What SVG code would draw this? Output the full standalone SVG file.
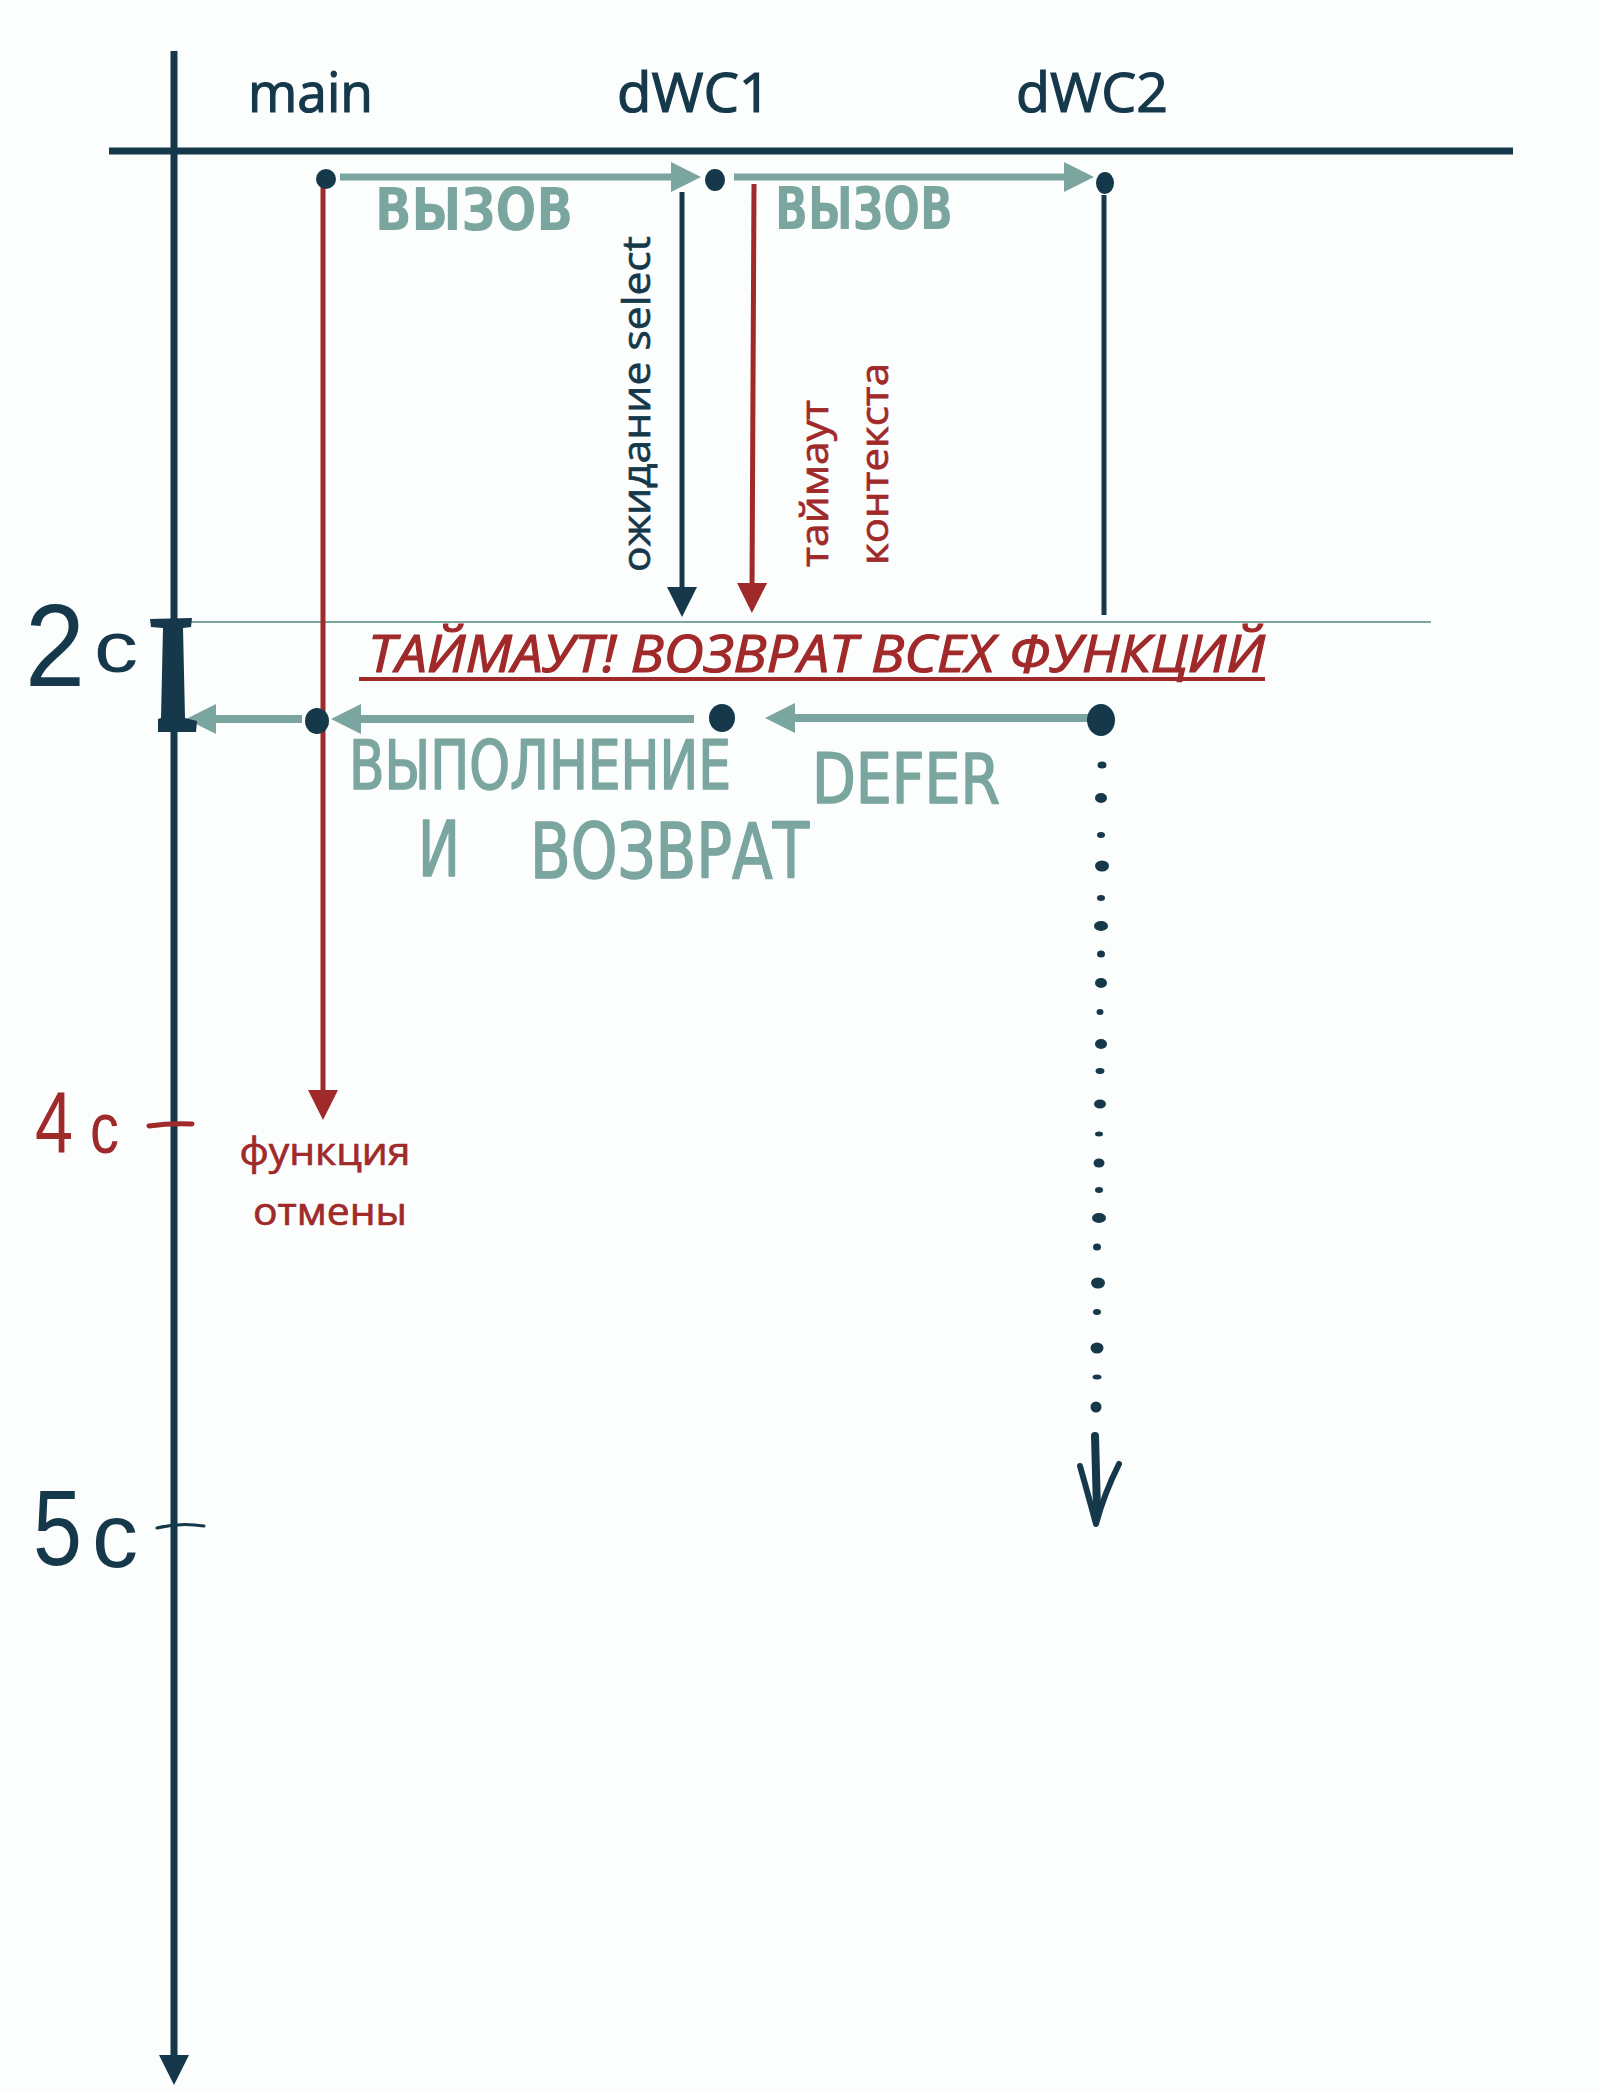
<svg xmlns="http://www.w3.org/2000/svg" width="1600" height="2091" viewBox="0 0 1600 2091">
<style>
.bg{fill:#fcfdfd}
.dk{fill:#15384a}
.rd{fill:#a0292a}
.tl{fill:#7ba69f}
.sdk{stroke:#15384a;fill:none}
.srd{stroke:#a0292a;fill:none}
.stl{stroke:#7ba69f;fill:none}
.hdr{font-family:"Open Sans","Noto Sans",sans-serif;font-size:54px;stroke:#15384a;stroke-width:1.2}
.lbl{font-family:"Open Sans","Noto Sans",sans-serif;font-size:39px;stroke-width:0.7}
.lbl.dk{stroke:#15384a}
.lbl.rd{stroke:#a0292a}
.hand{font-family:"DejaVu Sans Condensed","DejaVu Sans",sans-serif;font-stretch:condensed}
.hand.thin{stroke:#7ba69f;stroke-width:1.6;stroke-linejoin:round}
.num{font-family:"Liberation Sans","DejaVu Sans",sans-serif}
</style>
<defs>
<marker id="aTl" viewBox="0 0 30 30" refX="8" refY="15" markerWidth="30" markerHeight="30" markerUnits="userSpaceOnUse" orient="auto"><path d="M0,0 L30,15 L0,30 Z" class="tl"/></marker>
<marker id="aDk" viewBox="0 0 30 30" refX="8" refY="15" markerWidth="30" markerHeight="30" markerUnits="userSpaceOnUse" orient="auto"><path d="M0,0 L30,15 L0,30 Z" class="dk"/></marker>
<marker id="aRd" viewBox="0 0 30 30" refX="8" refY="15" markerWidth="30" markerHeight="30" markerUnits="userSpaceOnUse" orient="auto"><path d="M0,0 L30,15 L0,30 Z" class="rd"/></marker>
</defs>
<rect class="bg" x="0" y="0" width="1600" height="2091"/>

<g id="connectors">
  <path class="sdk" stroke-width="7" d="M174,51 V2063" marker-end="url(#aDk)"/>
  <path class="sdk" stroke-width="7" d="M109,151 H1513"/>
  <path class="stl" stroke-width="2" d="M190,622 H1431"/>
  <path class="stl" stroke-width="7" d="M340,177 H679" marker-end="url(#aTl)"/>
  <path class="stl" stroke-width="7" d="M734,177 H1072" marker-end="url(#aTl)"/>
  <path class="sdk" stroke-width="5" d="M682,192 V595" marker-end="url(#aDk)"/>
  <path class="srd" stroke-width="5" d="M754,184 L752,591" marker-end="url(#aRd)"/>
  <path class="srd" stroke-width="5" d="M323,185 V1098" marker-end="url(#aRd)"/>
  <path class="sdk" stroke-width="5" d="M1104,195 V615"/>
  <path class="stl" stroke-width="8" d="M1090,718 H787" marker-end="url(#aTl)"/>
  <path class="stl" stroke-width="8" d="M694,719 H353" marker-end="url(#aTl)"/>
  <path class="stl" stroke-width="8" d="M302,719 H208" marker-end="url(#aTl)"/>
  <g id="dotted" class="dk">
    <ellipse cx="1102" cy="765" rx="4.5" ry="3.5"/>
    <ellipse cx="1101" cy="798" rx="6" ry="5"/>
    <ellipse cx="1101" cy="835" rx="4" ry="3"/>
    <ellipse cx="1102" cy="866" rx="7" ry="5.5"/>
    <ellipse cx="1101" cy="898" rx="4" ry="3"/>
    <ellipse cx="1101" cy="926" rx="7" ry="5"/>
    <ellipse cx="1101" cy="954" rx="4" ry="3.5"/>
    <ellipse cx="1101" cy="983" rx="6" ry="5"/>
    <ellipse cx="1100" cy="1012" rx="3.5" ry="3"/>
    <ellipse cx="1101" cy="1044" rx="6" ry="5"/>
    <ellipse cx="1100" cy="1071" rx="4.5" ry="3"/>
    <ellipse cx="1100" cy="1104" rx="6" ry="4.5"/>
    <ellipse cx="1099" cy="1134" rx="4" ry="2.5"/>
    <ellipse cx="1099" cy="1163" rx="5.5" ry="4.5"/>
    <ellipse cx="1099" cy="1190" rx="4" ry="3"/>
    <ellipse cx="1099" cy="1218" rx="7" ry="5"/>
    <ellipse cx="1097" cy="1247" rx="4" ry="3.5"/>
    <ellipse cx="1098" cy="1283" rx="7" ry="5.5"/>
    <ellipse cx="1097" cy="1312" rx="4" ry="3"/>
    <ellipse cx="1097" cy="1348" rx="6.5" ry="5.5"/>
    <ellipse cx="1097" cy="1377" rx="4.5" ry="2.5"/>
    <ellipse cx="1096" cy="1407" rx="5.5" ry="5.5"/>
  </g>
  <path class="sdk" stroke-width="8" stroke-linecap="round" d="M1095,1436 L1097,1510"/>
  <path class="sdk" stroke-width="6" stroke-linecap="round" stroke-linejoin="round" d="M1080,1466 Q1089,1498 1096,1524 Q1104,1494 1119,1464"/>
</g>

<g id="axis-marks">
  <path class="dk" d="M150,619 L192,618 L191,627 L183,628 L185,718 L197,721 L196,732 L158,732 L158,719 L161,718 L163,628 L151,627 Z"/>
  <path class="srd" stroke-width="5" stroke-linecap="round" d="M149,1126 Q170,1123 192,1124"/>
  <path class="sdk" stroke-width="3" stroke-linecap="round" d="M157,1528 Q180,1522 204,1526"/>
  <text class="num dk" x="25" y="686" font-size="117" textLength="60" lengthAdjust="spacingAndGlyphs">2</text>
  <text class="num dk" x="94" y="672" font-size="72" textLength="44" lengthAdjust="spacingAndGlyphs">с</text>
  <text class="num rd" x="35" y="1153" font-size="88" textLength="38" lengthAdjust="spacingAndGlyphs">4</text>
  <text class="num rd" x="90" y="1153" font-size="73" textLength="29" lengthAdjust="spacingAndGlyphs">с</text>
  <text class="num dk" x="33" y="1565" font-size="108" textLength="49" lengthAdjust="spacingAndGlyphs">5</text>
  <text class="num dk" x="92" y="1567" font-size="90" textLength="46" lengthAdjust="spacingAndGlyphs">с</text>
</g>

<g id="node-main">
  <text class="hdr dk" x="248" y="112" textLength="125" lengthAdjust="spacingAndGlyphs">main</text>
  <circle class="dk" cx="326" cy="179" r="10"/>
  <ellipse class="dk" cx="317" cy="721" rx="12" ry="13"/>
  <text class="lbl rd" x="325" y="1165" text-anchor="middle" textLength="171" lengthAdjust="spacingAndGlyphs">функция</text>
  <text class="lbl rd" x="330" y="1225" text-anchor="middle" textLength="154" lengthAdjust="spacingAndGlyphs">отмены</text>
</g>

<g id="node-dWC1">
  <text class="hdr dk" x="617" y="112" textLength="154" lengthAdjust="spacingAndGlyphs">dWC1</text>
  <ellipse class="dk" cx="715" cy="180" rx="10" ry="11"/>
  <ellipse class="dk" cx="722" cy="718" rx="13" ry="14"/>
  <text class="lbl dk" transform="translate(650,572) rotate(-90)" font-size="41" textLength="336" lengthAdjust="spacingAndGlyphs">ожидание select</text>
  <text class="lbl rd" transform="translate(828,567) rotate(-90)" textLength="167" lengthAdjust="spacingAndGlyphs">таймаут</text>
  <text class="lbl rd" transform="translate(888,565) rotate(-90)" textLength="202" lengthAdjust="spacingAndGlyphs">контекста</text>
</g>

<g id="node-dWC2">
  <text class="hdr dk" x="1016" y="112" textLength="152" lengthAdjust="spacingAndGlyphs">dWC2</text>
  <ellipse class="dk" cx="1105" cy="183" rx="9" ry="11"/>
  <ellipse class="dk" cx="1101" cy="720" rx="14" ry="16"/>
</g>

<g id="labels">
  <text class="hand tl" x="375" y="230" font-size="58" font-weight="bold" textLength="198" lengthAdjust="spacingAndGlyphs">ВЫЗОВ</text>
  <text class="hand tl" x="775" y="229" font-size="58" font-weight="bold" textLength="178" lengthAdjust="spacingAndGlyphs">ВЫЗОВ</text>
  <text class="rd" x="368" y="672" font-family="Open Sans, Noto Sans, sans-serif" font-style="italic" font-size="51" stroke="#a0292a" stroke-width="1.2" textLength="897" lengthAdjust="spacingAndGlyphs">ТАЙМАУТ! ВОЗВРАТ ВСЕХ ФУНКЦИЙ</text>
  <path class="srd" stroke-width="4" d="M359,679 H1265"/>
  <text class="hand thin tl" x="349" y="789" font-size="68" textLength="382" lengthAdjust="spacingAndGlyphs">ВЫПОЛНЕНИЕ</text>
  <text class="hand thin tl" x="418" y="876" font-size="76" textLength="42" lengthAdjust="spacingAndGlyphs">И</text>
  <text class="hand thin tl" x="530" y="878" font-size="76" textLength="279" lengthAdjust="spacingAndGlyphs">ВОЗВРАТ</text>
  <text class="hand thin tl" x="812" y="803" font-size="70" textLength="188" lengthAdjust="spacingAndGlyphs">DEFER</text>
</g>
</svg>
